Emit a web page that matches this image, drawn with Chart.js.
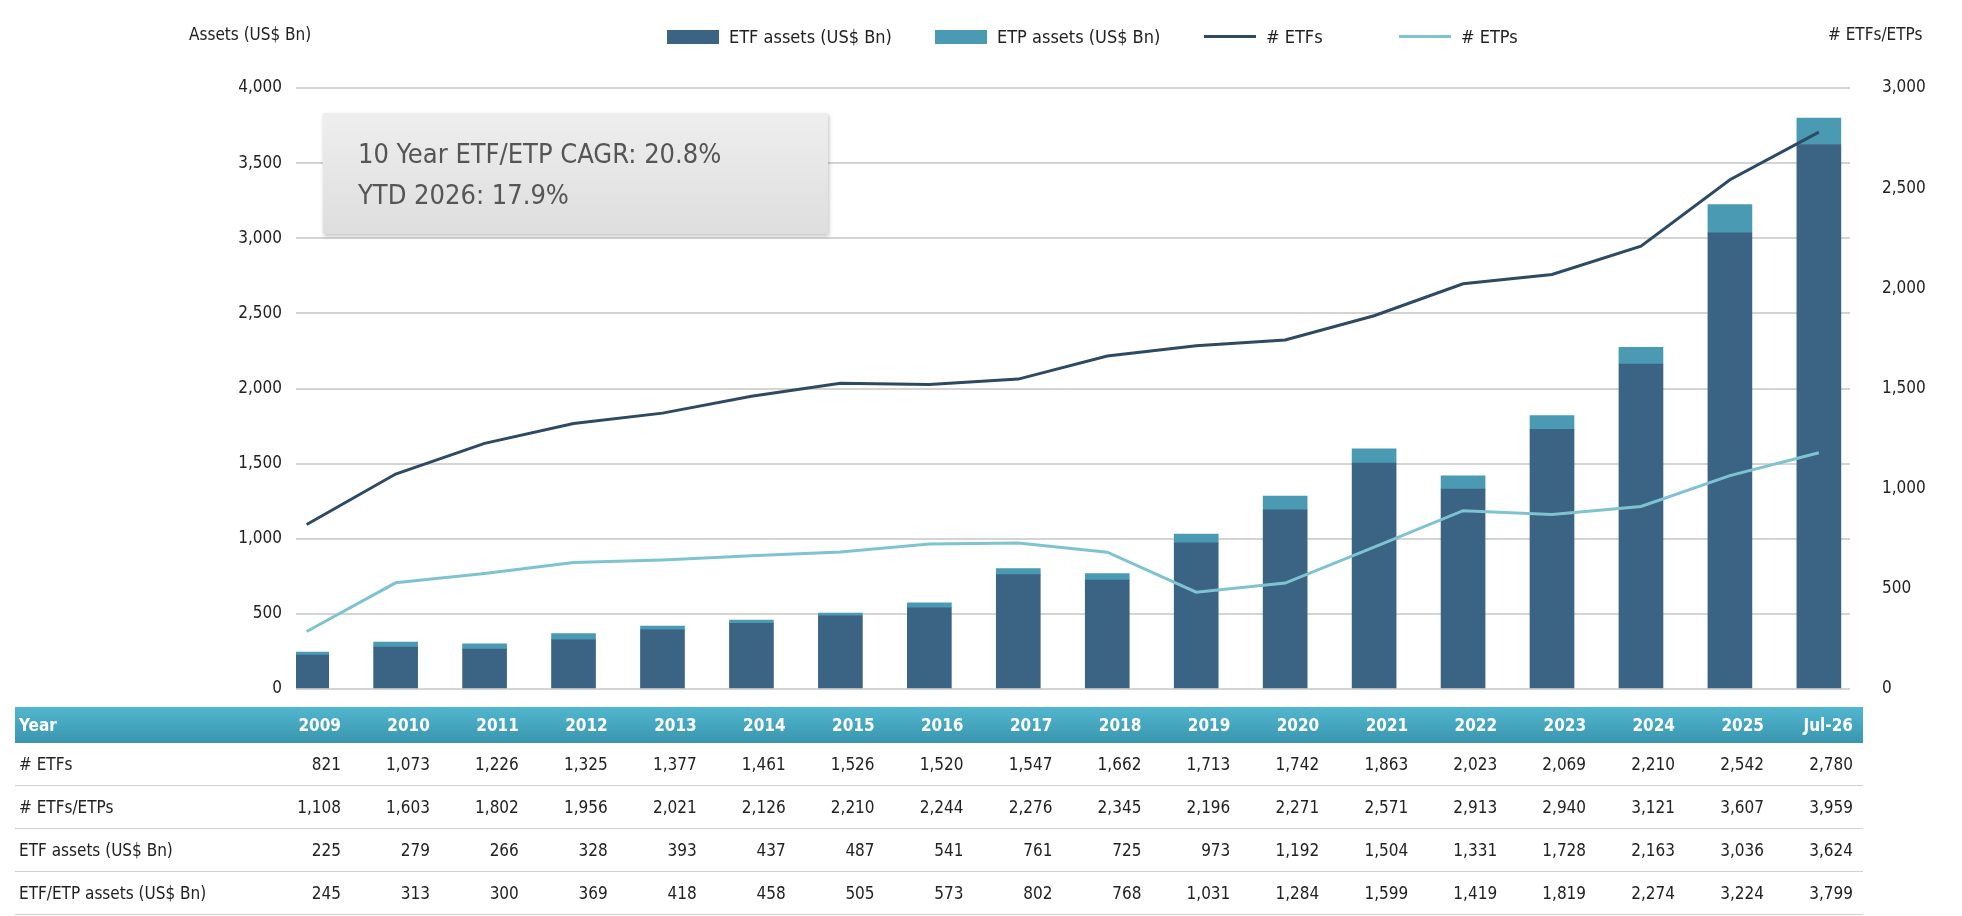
<!DOCTYPE html>
<html><head><meta charset="utf-8">
<script src="https://cdn.jsdelivr.net/npm/chart.js@4"></script>
<style>
body{margin:0;background:#fff;font-family:"DejaVu Sans Condensed","DejaVu Sans",sans-serif;color:#222}
#wrap{position:relative;width:1962px;height:916px;overflow:hidden}
canvas{position:absolute;left:0;top:0}
.ax{position:absolute;top:24px;font-size:17px;color:#222}
.leg{position:absolute;top:26px;font-size:18px;display:flex;align-items:center}
.leg i{display:inline-block;width:52px;margin-right:10px}
#note{position:absolute;left:323px;top:113px;width:505px;height:121px;background:linear-gradient(#eeeeee,#dedede);box-shadow:1px 2px 4px rgba(0,0,0,.25);color:#555;font-size:27px;line-height:41px;padding:20px 0 0 35px;box-sizing:border-box}
table{position:absolute;left:15px;top:707px;border-collapse:collapse;table-layout:fixed;width:1848px;font-size:17px}
td{text-align:right;padding:0 10px 0 0;height:42px;border-bottom:1px solid #d0d0d0;white-space:nowrap}
td:first-child{text-align:left;padding-left:4px}
tr.h td{height:36px;background:linear-gradient(#52b6cf,#3996ae);color:#fff;font-weight:bold;border:none}
</style></head><body>
<div id="wrap">
<canvas id="c" width="1962" height="916"></canvas>
<div class="ax" style="left:189px">Assets (US$ Bn)</div>
<div class="ax" style="left:1828px"># ETFs/ETPs</div>
<div class="leg" style="left:667px"><i style="height:14px;background:#3a6384"></i>ETF assets (US$ Bn)</div>
<div class="leg" style="left:935px"><i style="height:14px;background:#4a9ab4"></i>ETP assets (US$ Bn)</div>
<div class="leg" style="left:1204px"><i style="height:3px;background:#2e4a63"></i># ETFs</div>
<div class="leg" style="left:1399px"><i style="height:3px;background:#7fc3d1"></i># ETPs</div>
<div id="note">10 Year ETF/ETP CAGR: 20.8%<br>YTD 2026: 17.9%</div>
<table id="tbl"></table>
</div>
<script>
// ── data ──
const years=['2009','2010','2011','2012','2013','2014','2015','2016','2017','2018','2019','2020','2021','2022','2023','2024','2025','Jul-26'];
const numEtfs=[821,1073,1226,1325,1377,1461,1526,1520,1547,1662,1713,1742,1863,2023,2069,2210,2542,2780];
const numEtfsEtps=[1108,1603,1802,1956,2021,2126,2210,2244,2276,2345,2196,2271,2571,2913,2940,3121,3607,3959];
const etfAssets=[225,279,266,328,393,437,487,541,761,725,973,1192,1504,1331,1728,2163,3036,3624];
const etfEtpAssets=[245,313,300,369,418,458,505,573,802,768,1031,1284,1599,1419,1819,2274,3224,3799];

const numEtps=numEtfsEtps.map((v,i)=>v-numEtfs[i]);
const etpAssets=etfEtpAssets.map((v,i)=>v-etfAssets[i]);
const pts=arr=>arr.map((v,i)=>({x:i,y:v}));
const fmt=v=>v.toLocaleString('en-US');

// ── table ──
const rows=[['Year',years,true],['# ETFs',numEtfs],['# ETFs/ETPs',numEtfsEtps],['ETF assets (US$ Bn)',etfAssets],['ETF/ETP assets (US$ Bn)',etfEtpAssets]];
document.getElementById('tbl').innerHTML='<colgroup><col style="width:247px">'+years.map(()=>'<col style="width:88.95px">').join('')+'</colgroup>'+
  rows.map(r=>`<tr class="${r[2]?'h':''}"><td>${r[0]}</td>${r[1].map(v=>`<td>${typeof v==='number'?fmt(v):v}</td>`).join('')}</tr>`).join('');

// ── chart ──
Chart.defaults.font.family='"DejaVu Sans Condensed","DejaVu Sans",sans-serif';
Chart.defaults.font.size=17;
Chart.defaults.color='#222';
new Chart(document.getElementById('c'),{
  data:{datasets:[
    {type:'line',data:pts(numEtfs),yAxisID:'y2',borderColor:'#2e4a63',borderWidth:3,pointRadius:0,tension:0,order:0},
    {type:'line',data:pts(numEtps),yAxisID:'y2',borderColor:'#7fc3d1',borderWidth:3,pointRadius:0,tension:0,order:0},
    {type:'bar',data:pts(etfAssets),yAxisID:'y',backgroundColor:'#3a6384',barThickness:44,stack:'a',order:1},
    {type:'bar',data:pts(etpAssets),yAxisID:'y',backgroundColor:'#4a9ab4',barThickness:44,stack:'a',order:1},
  ]},
  options:{responsive:false,animation:false,
    layout:{padding:{top:88,bottom:916-689,left:0,right:0}},
    plugins:{legend:{display:false},tooltip:{enabled:false}},
    scales:{
      x:{type:'linear',min:-0.12,max:17.35,offset:false,stacked:true,display:false},
      y:{position:'left',stacked:true,min:0,max:4000,
        ticks:{stepSize:500,padding:14,callback:v=>fmt(v)},
        grid:{color:'#d4d4d4',lineWidth:2,drawTicks:false},border:{display:false},
        afterFit:s=>{s.width=296}},
      y2:{position:'right',min:0,max:3000,
        ticks:{stepSize:500,padding:24,callback:v=>fmt(v)},
        grid:{display:false},border:{display:false},
        afterFit:s=>{s.width=112}}
    }}
});
</script>
</body></html>
